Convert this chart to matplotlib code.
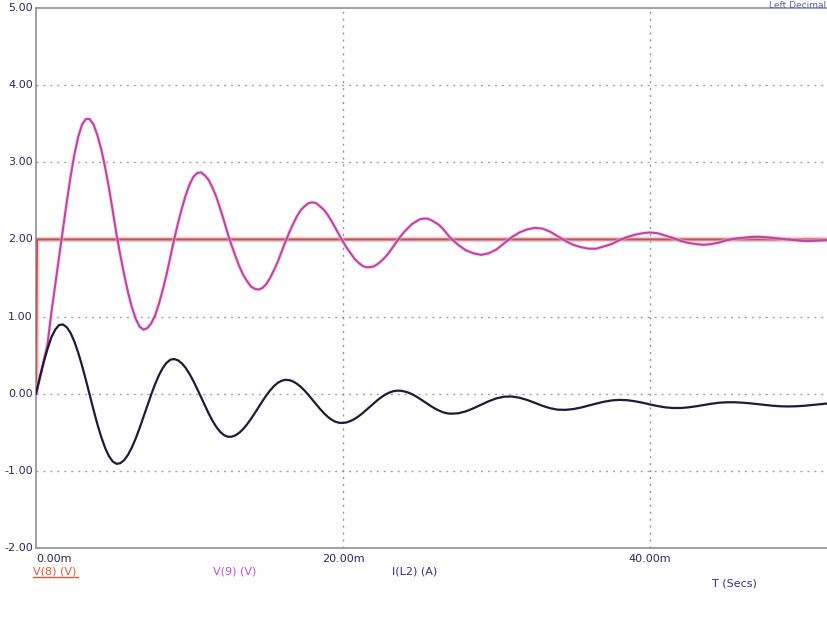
import matplotlib
matplotlib.use("Agg")
import matplotlib.pyplot as plt

# time in ms
t_ms = [0, 0.25, 0.5, 0.75, 1.0, 1.25, 1.5, 1.75, 2.0, 2.25, 2.5, 2.75, 3.0, 3.25, 3.5, 3.75,
        4.0, 4.25, 4.5, 4.75, 5.0, 5.25, 5.5, 5.75, 6.0, 6.25, 6.5, 6.75, 7.0, 7.25, 7.5, 7.75,
        8.0, 8.25, 8.5, 8.75, 9.0, 9.25, 9.5, 9.75, 10.0, 10.25, 10.5, 10.75, 11.0, 11.25,
        11.5, 11.75, 12.0, 12.25, 12.5, 12.75, 13.0, 13.25, 13.5, 13.75, 14.0, 14.25, 14.5,
        14.75, 15.0, 15.25, 15.5, 15.75, 16.0, 16.25, 16.5, 16.75, 17.0, 17.25, 17.5, 17.75,
        18.0, 18.25, 18.5, 18.75, 19.0, 19.25, 19.5, 19.75, 20.0, 20.25, 20.5, 20.75, 21.0,
        21.25, 21.5, 21.75, 22.0, 22.25, 22.5, 22.75, 23.0, 23.25, 23.5, 23.75, 24.0, 24.25,
        24.5, 24.75, 25.0, 25.25, 25.5, 25.75, 26.0, 26.25, 26.5, 26.75, 27.0,
        27.5, 28.0, 28.5, 29.0, 29.5, 30.0, 30.5, 31.0, 31.5, 32.0, 32.5, 33.0, 33.5, 34.0,
        34.5, 35.0, 35.5, 36.0, 36.5, 37.0, 37.5, 38.0, 38.5, 39.0, 39.5, 40.0, 40.5, 41.0,
        41.5, 42.0, 42.5, 43.0, 43.5, 44.0, 44.5, 45.0, 45.5, 46.0, 46.5, 47.0, 47.5, 48.0,
        48.5, 49.0, 49.5, 50.0, 50.5, 51.0, 51.5]

v9 = [0.0, 0.21, 0.42, 0.64, 1.05, 1.41, 1.76, 2.12, 2.48, 2.81, 3.10, 3.33, 3.49, 3.56, 3.56,
      3.49, 3.35, 3.17, 2.94, 2.67, 2.37, 2.06, 1.79, 1.54, 1.31, 1.12, 0.97, 0.87, 0.83, 0.85,
      0.91, 1.01, 1.16, 1.34, 1.54, 1.77, 2.00, 2.21, 2.40, 2.57, 2.71, 2.81, 2.86, 2.87, 2.83,
      2.77, 2.67, 2.55, 2.40, 2.24, 2.07, 1.92, 1.78, 1.65, 1.54, 1.46, 1.39, 1.36, 1.35, 1.37,
      1.42, 1.50, 1.60, 1.71, 1.84, 1.97, 2.09, 2.20, 2.30, 2.38, 2.43, 2.47, 2.48, 2.47, 2.43,
      2.385, 2.32, 2.24, 2.15, 2.06, 1.97, 1.89, 1.82, 1.75, 1.70, 1.66, 1.64, 1.64, 1.65, 1.68,
      1.72, 1.77, 1.83, 1.90, 1.97, 2.04, 2.10, 2.15, 2.20, 2.23, 2.26, 2.27, 2.27, 2.25, 2.22,
      2.19, 2.14, 2.08, 2.02,
      1.93, 1.86, 1.82, 1.80, 1.82, 1.87, 1.95, 2.03, 2.09, 2.13, 2.15, 2.14, 2.10, 2.04, 1.98,
      1.93, 1.90, 1.88, 1.88, 1.91, 1.94, 1.99, 2.03, 2.06, 2.08, 2.09, 2.08, 2.05, 2.02, 1.98,
      1.955, 1.94, 1.93, 1.94, 1.96, 1.99, 2.01, 2.02, 2.03, 2.035, 2.03, 2.02, 2.01, 2.0, 1.99,
      1.98, 1.98, 1.985, 1.99]

i_l2 = [0.0, 0.21, 0.41, 0.58, 0.73, 0.83, 0.89, 0.898, 0.863, 0.789, 0.676, 0.532, 0.364,
        0.178, -0.017, -0.210, -0.396, -0.561, -0.701, -0.809, -0.879, -0.909, -0.90, -0.860,
        -0.79, -0.695, -0.579, -0.446, -0.303, -0.157, -0.014, 0.119, 0.236, 0.330, 0.40,
        0.440, 0.45, 0.433, 0.394, 0.335, 0.257, 0.166, 0.063, -0.044, -0.152, -0.256, -0.351,
        -0.431, -0.494, -0.537, -0.558, -0.557, -0.539, -0.505, -0.457, -0.397, -0.328, -0.253,
        -0.174, -0.097, -0.024, 0.042, 0.098, 0.141, 0.168, 0.18, 0.176, 0.159, 0.129, 0.089,
        0.04, -0.016, -0.076, -0.137, -0.196, -0.250, -0.298, -0.336, -0.363, -0.377, -0.379,
        -0.371, -0.353, -0.328, -0.295, -0.257, -0.214, -0.170, -0.126, -0.083, -0.045,
        -0.0125, 0.013, 0.031, 0.039, 0.039, 0.030, 0.015, -0.006, -0.033, -0.064, -0.097,
        -0.130, -0.163, -0.193, -0.218, -0.239, -0.253, -0.259,
        -0.254, -0.229, -0.189, -0.143, -0.097, -0.060, -0.039, -0.036, -0.052, -0.081, -0.118,
        -0.157, -0.188, -0.207, -0.209, -0.199, -0.180, -0.154, -0.128, -0.104, -0.087, -0.08,
        -0.084, -0.097, -0.116, -0.139, -0.160, -0.177, -0.185, -0.185, -0.177, -0.163, -0.146,
        -0.130, -0.117, -0.111, -0.111, -0.116, -0.124, -0.135, -0.146, -0.156, -0.163, -0.165,
        -0.163, -0.157, -0.148, -0.138, -0.128]

t_v8 = [0.0, 0.06, 51.6]
v8 = [0.0, 2.0, 2.0]

y_ticks = [-2, -1, 0, 1, 2, 3, 4, 5]
y_labels = ["-2.00", "-1.00", "0.00", "1.00", "2.00", "3.00", "4.00", "5.00"]
x_ticks = [0, 20, 40]
x_labels = ["0.00m", "20.00m", "40.00m"]

W, H = 828, 620
fig = plt.figure(figsize=(W / 100, H / 100), dpi=100)
fig.patch.set_facecolor("white")
ax = fig.add_axes([36 / W, (H - 548) / H, (W - 36) / W, (548 - 8) / H])
ax.set_xlim(0, 51.6)
ax.set_ylim(-2, 5)

# grid
for y in [-1, 0, 1, 3, 4]:
    ax.axhline(y, color="#a0a0b0", lw=1.0, ls=(0, (1.5, 3.5)), zorder=1)
for x in [20, 40]:
    ax.axvline(x, color="#8a90c0", lw=1.0, ls=(0, (1.5, 3.5)), zorder=1)

# V(8) step with glow
ax.plot(t_v8, v8, color="#f4b0b8", lw=4.0, alpha=0.6, zorder=2, solid_capstyle="butt")
ax.plot(t_v8, v8, color="#b85a5a", lw=1.6, zorder=3)
# V(9)
ax.plot(t_ms, v9, color="#f0c0e4", lw=3.0, alpha=0.5, zorder=3)
ax.plot(t_ms, v9, color="#bc46a0", lw=1.5, zorder=4, solid_joinstyle="round")
# I(L2)
ax.plot(t_ms, i_l2, color="#1c1c36", lw=1.6, zorder=5, solid_joinstyle="round")

ax.set_xticks([])
ax.set_yticks([])
ax.spines["right"].set_visible(False)
for s in ["left", "top", "bottom"]:
    ax.spines[s].set_color("#909090")
    ax.spines[s].set_linewidth(1.2)

tick_color = "#2a2a5a"
fs = 8
for yv, lab in zip(y_ticks, y_labels):
    ax.text(-0.004, yv, lab, transform=ax.get_yaxis_transform(), ha="right", va="center",
            fontsize=fs, color=tick_color)
for xv, lab in zip(x_ticks, x_labels):
    ha = "left" if xv == 0 else "center"
    ax.text(xv, -0.012, lab, transform=ax.get_xaxis_transform(), ha=ha, va="top",
            fontsize=fs, color=tick_color)

# legend-like labels under the plot
def fig_text(xpx, ypx, s, color, **kw):
    kw.setdefault("ha", "left")
    kw.setdefault("va", "center")
    kw.setdefault("fontsize", fs)
    return fig.text(xpx / W, 1 - ypx / H, s, color=color, **kw)

fig_text(33, 571, "V(8) (V)", "#e05838")
fig.add_artist(plt.Line2D([33 / W, 78 / W], [1 - 577 / H, 1 - 577 / H], color="#e05838", lw=1.0))
fig_text(213, 571, "V(9) (V)", "#c050c0")
fig_text(392, 571, "I(L2) (A)", "#303080")
fig_text(712, 584, "T (Secs)", "#303080")
fig_text(826, 1, "Left Decimal", "#5060b0", ha="right", va="top", fontsize=6.5)

fig.savefig("out.png", dpi=100, facecolor="white")
